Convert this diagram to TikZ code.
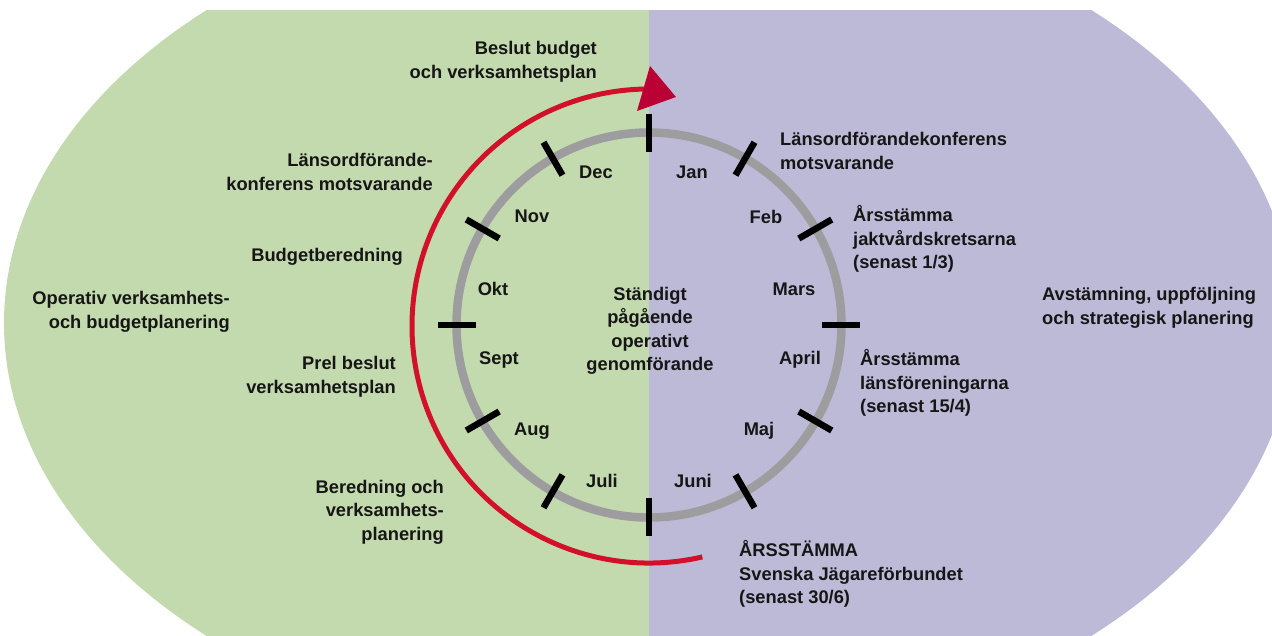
\documentclass[tikz,border=0pt]{standalone}
\usepackage{fontspec}
\setmainfont{Liberation Sans}
\definecolor{bggreen}{HTML}{C3DAAE}
\definecolor{bgpurple}{HTML}{BDBAD7}
\definecolor{ringgray}{HTML}{9D9D9F}
\definecolor{arcred}{HTML}{D2102A}
\definecolor{tipred}{HTML}{BA0034}
\definecolor{txt}{HTML}{161616}
\begin{document}
\begin{tikzpicture}[x=1pt,y=-1pt,
  lbl/.style={font=\bfseries\fontsize{18.3}{23.5}\selectfont, inner sep=0pt, text=txt},
  lblr/.style={lbl, align=right, anchor=east},
  lbll/.style={lbl, align=left, anchor=west},
  month/.style={lbl},
  ring/.style={ringgray, line width=8.5pt},
  tick/.style={black, line width=6.5pt},
  cycle arc/.style={arcred, line width=5pt}]
\useasboundingbox (0,0) rectangle (1272,635);
% background halves
\begin{scope}
  \clip (0,10) rectangle (1272,635);
  \clip (649,323) ellipse [x radius=645, y radius=430];
  \fill[bggreen] (0,0) rectangle (649,640);
  \fill[bgpurple] (649,0) rectangle (1272,640);
\end{scope}
% year ring
\coordinate (c) at (649,325);
\draw[ring] (c) circle [radius=192.5];
\foreach \a in {0,30,...,330}
  \draw[tick] ([shift={(\a:173)}]c) -- ([shift={(\a:211)}]c);
% red cycle arrow
\coordinate (rc) at (649,326);
\draw[cycle arc] ([shift={(77:237)}]rc) arc[start angle=77, end angle=270, radius=237];
\fill[tipred] (650,66) -- (676,97) -- (637,111) -- cycle;
% months
\node[month] (jan)  at (692,172) {Jan};
\node[month] (feb)  at (766,217) {Feb};
\node[month] (mar)  at (794,289) {Mars};
\node[month] (apr)  at (800,360) {April};
\node[month] (maj)  at (759,431) {Maj};
\node[month] (jun)  at (693,481) {Juni};
\node[month] (jul)  at (602,481) {Juli};
\node[month] (aug)  at (532,431) {Aug};
\node[month] (sep)  at (499,360) {Sept};
\node[month] (okt)  at (493,289) {Okt};
\node[month] (nov)  at (532,216) {Nov};
\node[month] (dec)  at (596,172) {Dec};
% centre
\node[lbl, align=center] (centre) at (650,331) {Ständigt\\pågående\\operativt\\genomförande};
% left labels
\node[lblr] (beslut) at (597,62) {Beslut budget\\och verksamhetsplan};
\node[lblr] (lokl) at (433,172) {Länsordförande-\\konferens motsvarande};
\node[lblr] (budg) at (403,257) {Budgetberedning};
\node[lblr] (oper) at (230,312) {Operativ verksamhets-\\och budgetplanering};
\node[lblr] (prel) at (396,377) {Prel beslut\\verksamhetsplan};
\node[lblr] (bered) at (444,512) {Beredning och\\verksamhets-\\planering};
% right labels
\node[lbll] (lokr) at (780,151) {Länsordförandekonferens\\motsvarande};
\node[lbll] (arsj) at (853,239) {Årsstämma\\jaktvårdskretsarna\\(senast 1/3)};
\node[lbll] (avst) at (1042,308) {Avstämning, uppföljning\\och strategisk planering};
\node[lbll] (arsl) at (860,383) {Årsstämma\\länsföreningarna\\(senast 15/4)};
\node[lbll] (arss) at (739,574) {ÅRSSTÄMMA\\Svenska Jägareförbundet\\(senast 30/6)};
\end{tikzpicture}
\end{document}
